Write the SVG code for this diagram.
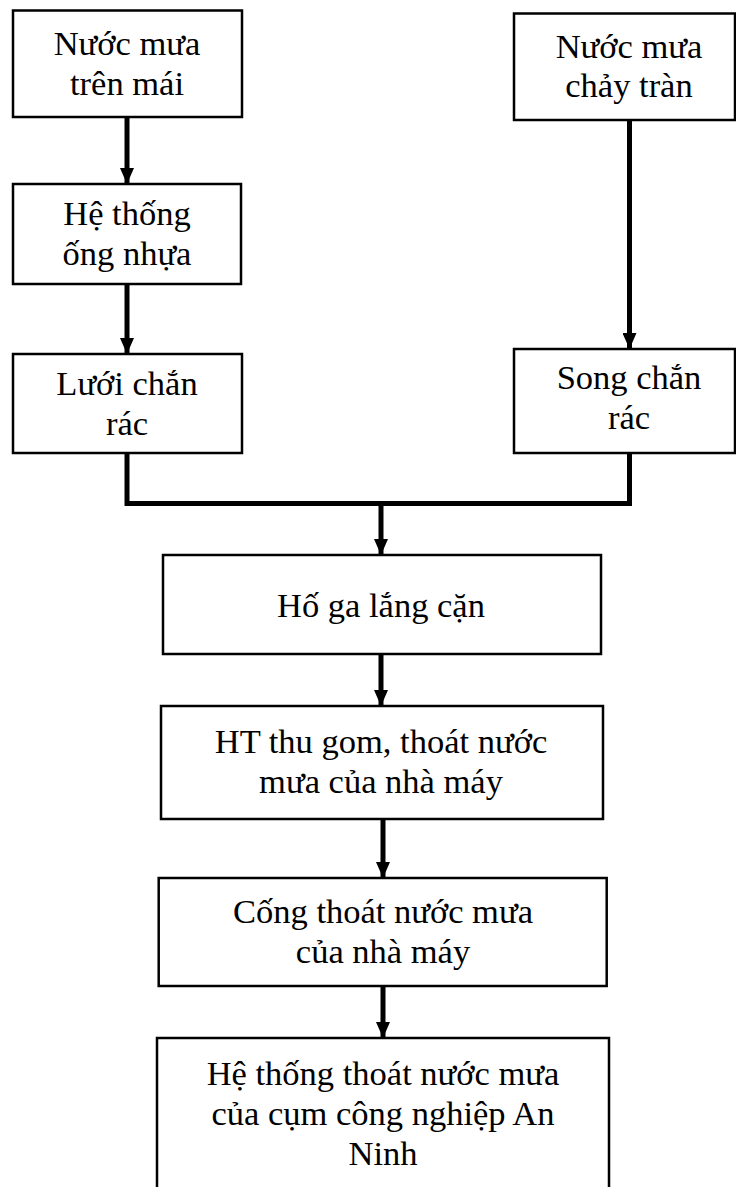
<svg xmlns="http://www.w3.org/2000/svg" width="736" height="1187" viewBox="0 0 736 1187">
<defs>
<marker id="ah" viewBox="0 0 16 14" refX="16" refY="7" markerWidth="16" markerHeight="14" markerUnits="userSpaceOnUse" orient="auto">
<path d="M0,0 L16,7 L0,14 Z" fill="#000"/>
</marker>
<style>
.box{fill:#fff;stroke:#000;stroke-width:2.5}
.t{font-family:"Liberation Serif","Times New Roman","DejaVu Serif",serif;font-size:34.5px;fill:#000;text-anchor:middle}
.c{fill:none;stroke:#000;stroke-width:5}
</style>
</defs>
<rect width="736" height="1187" fill="#fff"/>
<g id="connectors">
<path class="c" d="M127,117 V184" marker-end="url(#ah)"/>
<path class="c" d="M127,284 V354" marker-end="url(#ah)"/>
<path class="c" d="M629.5,120 V349" marker-end="url(#ah)"/>
<path class="c" d="M127,453 V503.5 H629.5 V453" stroke-linejoin="miter"/>
<path class="c" d="M381,503.5 V555" marker-end="url(#ah)"/>
<path class="c" d="M381,654 V706" marker-end="url(#ah)"/>
<path class="c" d="M383,819 V878" marker-end="url(#ah)"/>
<path class="c" d="M383,986 V1038" marker-end="url(#ah)"/>
</g>
<g id="n1">
<rect class="box" x="13" y="10.5" width="229" height="106.5"/>
<text class="t" x="127" y="55">Nước mưa</text>
<text class="t" x="127" y="95">trên mái</text>
</g>
<g id="n2">
<rect class="box" x="13" y="184" width="228" height="100"/>
<text class="t" x="127" y="225">Hệ thống</text>
<text class="t" x="127" y="265">ống nhựa</text>
</g>
<g id="n3">
<rect class="box" x="13" y="354" width="229" height="99"/>
<text class="t" x="127" y="395">Lưới chắn</text>
<text class="t" x="127" y="435">rác</text>
</g>
<g id="n4">
<rect class="box" x="514" y="13.5" width="221" height="106.5"/>
<text class="t" x="629" y="58">Nước mưa</text>
<text class="t" x="629" y="97">chảy tràn</text>
</g>
<g id="n5">
<rect class="box" x="514" y="349" width="221" height="104"/>
<text class="t" x="629" y="389">Song chắn</text>
<text class="t" x="629" y="429">rác</text>
</g>
<g id="n6">
<rect class="box" x="163" y="555" width="438" height="99"/>
<text class="t" x="381" y="617">Hố ga lắng cặn</text>
</g>
<g id="n7">
<rect class="box" x="161" y="706" width="442" height="113"/>
<text class="t" x="381" y="753">HT thu gom, thoát nước</text>
<text class="t" x="381" y="793">mưa của nhà máy</text>
</g>
<g id="n8">
<rect class="box" x="158.7" y="878" width="448" height="108"/>
<text class="t" x="383" y="923">Cống thoát nước mưa</text>
<text class="t" x="383" y="963">của nhà máy</text>
</g>
<g id="n9">
<rect class="box" x="157" y="1038" width="452" height="170"/>
<text class="t" x="383" y="1085">Hệ thống thoát nước mưa</text>
<text class="t" x="383" y="1125">của cụm công nghiệp An</text>
<text class="t" x="383" y="1165">Ninh</text>
</g>
</svg>
